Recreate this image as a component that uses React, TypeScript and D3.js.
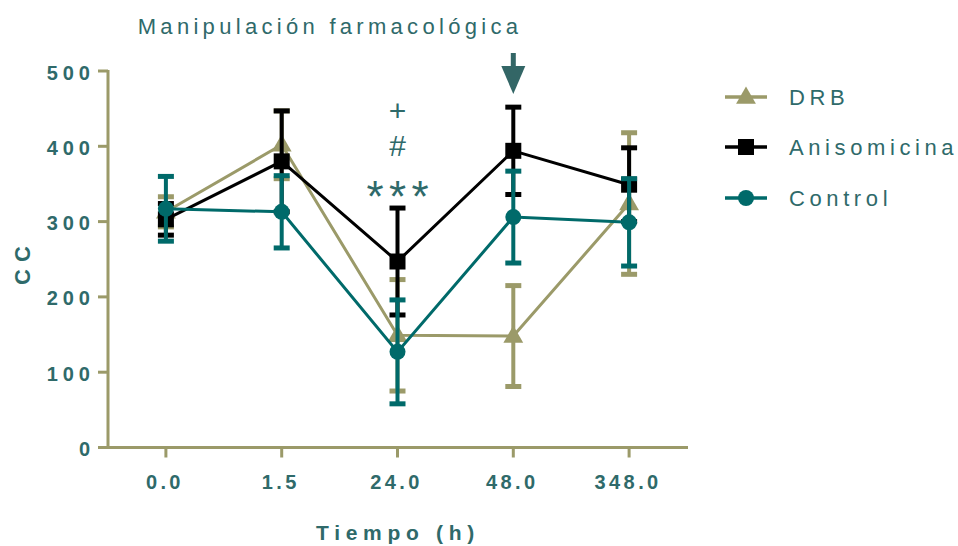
import React from "react";
import * as d3 from "d3";

const categories = ["0.0", "1.5", "24.0", "48.0", "348.0"];
const yTicks = [0, 100, 200, 300, 400, 500];

const drbMean = [313, 402, 149, 148, 324];
const drbErr = [20, 45, 74, 67, 94];
const anisoMean = [303, 380, 247, 394, 349];
const anisoErr = [21, 67, 71, 58, 49];
const controlMean = [317, 313, 127, 306, 299];
const controlErr = [43, 48, 69, 61, 58];

const seriesNames = ["DRB", "Anisomicina", "Control"];
const annotations = ["+", "#", "***"];

const OLIVE = "#9b9a69";
const BLACK = "#000000";
const TEAL = "#006a6a";
const TEXT = "#2f6a6a";

const W = 958;
const H = 546;

export default function App() {
  const x = d3.scalePoint<string>().domain(categories).range([108, 687]).padding(0.5);
  const y = d3.scaleLinear().domain([0, 500]).range([447.5, 71]);

  const series = [
    { name: seriesNames[0], mean: drbMean, err: drbErr, color: OLIVE, marker: "triangle" },
    { name: seriesNames[1], mean: anisoMean, err: anisoErr, color: BLACK, marker: "square" },
    { name: seriesNames[2], mean: controlMean, err: controlErr, color: TEAL, marker: "circle" },
  ];

  const line = d3
    .line<number>()
    .x((_, i) => x(categories[i]) as number)
    .y((d) => y(d));

  const marker = (kind: string, cx: number, cy: number, color: string, key: string) => {
    if (kind === "square") return <rect key={key} x={cx - 8} y={cy - 8} width={16} height={16} fill={color} />;
    if (kind === "circle") return <circle key={key} cx={cx} cy={cy} r={8} fill={color} />;
    const sym = d3.symbol().type(d3.symbolTriangle).size(170)();
    return <path key={key} d={sym as string} transform={`translate(${cx},${cy + 1})`} fill={color} />;
  };

  const font = "'Liberation Sans', Arial, sans-serif";
  const x24 = x("24.0") as number;
  const x48 = x("48.0") as number;

  return (
    <svg width={W} height={H} style={{ position: "absolute", left: 0, top: 0, background: "#fff" }} fontFamily={font}>
      {/* title */}
      <text x={330} y={34} textAnchor="middle" fontSize={22} letterSpacing={4.3} fill={TEXT}>
        Manipulación farmacológica
      </text>

      {/* axes */}
      <g stroke={OLIVE} strokeWidth={3} fill="none">
        <line x1={108} y1={y(500) - 1} x2={108} y2={y(0) + 1.5} />
        <line x1={106.5} y1={y(0)} x2={688} y2={y(0)} />
        {yTicks.map((t) => (
          <line key={"yt" + t} x1={98} x2={108} y1={y(t)} y2={y(t)} />
        ))}
        {categories.map((c) => (
          <line key={"xt" + c} x1={x(c)} x2={x(c)} y1={y(0)} y2={y(0) + 10} />
        ))}
      </g>
      {yTicks.map((t) => (
        <text key={"yl" + t} x={95} y={y(t) + 8.5} textAnchor="end" fontSize={20} fontWeight="bold" letterSpacing={5} fill={TEXT}>
          {t}
        </text>
      ))}
      {categories.map((c) => (
        <text key={"xl" + c} x={(x(c) as number) - 1} y={489} textAnchor="middle" fontSize={20} fontWeight="bold" letterSpacing={3.4} fill={TEXT}>
          {c}
        </text>
      ))}
      <text x={398} y={540} textAnchor="middle" fontSize={21} fontWeight="bold" letterSpacing={5.7} fill={TEXT}>
        Tiempo (h)
      </text>
      <text transform={`translate(30,262) rotate(-90)`} textAnchor="middle" fontSize={22} fontWeight="bold" letterSpacing={7} fill={TEXT}>
        CC
      </text>

      {/* series */}
      {series.map((s) => (
        <g key={s.name}>
          <path d={line(s.mean) as string} fill="none" stroke={s.color} strokeWidth={3} />
          {s.mean.map((m, i) => {
            const cx = x(categories[i]) as number;
            const top = y(m + s.err[i]);
            const bot = y(m - s.err[i]);
            return (
              <g key={"e" + i} stroke={s.color} fill="none">
                <line x1={cx} x2={cx} y1={top} y2={bot} strokeWidth={4} />
                <line x1={cx - 8} x2={cx + 8} y1={top} y2={top} strokeWidth={5} />
                <line x1={cx - 8} x2={cx + 8} y1={bot} y2={bot} strokeWidth={5} />
              </g>
            );
          })}
          {s.mean.map((m, i) => marker(s.marker, x(categories[i]) as number, y(m), s.color, "m" + i))}
        </g>
      ))}

      {/* annotations */}
      <text x={x24} y={121} textAnchor="middle" fontSize={30} fill={TEXT}>{annotations[0]}</text>
      <text x={x24} y={156} textAnchor="middle" fontSize={30} fill={TEXT}>{annotations[1]}</text>
      <text x={x24 + 2.7} y={212} textAnchor="middle" fontSize={44} letterSpacing={5.4} fill={TEXT}>{annotations[2]}</text>

      {/* arrow */}
      <g fill="#336666">
        <rect x={x48 - 2.5} y={53} width={5} height={14} />
        <path d={`M${x48 - 12},66 L${x48 + 12},66 L${x48},94 Z`} />
      </g>

      {/* legend */}
      {series.map((s, i) => {
        const ly = [97, 147, 198][i];
        return (
          <g key={"lg" + s.name}>
            <line x1={725} x2={767} y1={ly} y2={ly} stroke={s.color} strokeWidth={3.5} />
            {marker(s.marker, 746, ly, s.color, "lm" + i)}
            <text x={789} y={ly + 8} fontSize={22} letterSpacing={4.6} fill={TEXT}>
              {s.name}
            </text>
          </g>
        );
      })}
    </svg>
  );
}
